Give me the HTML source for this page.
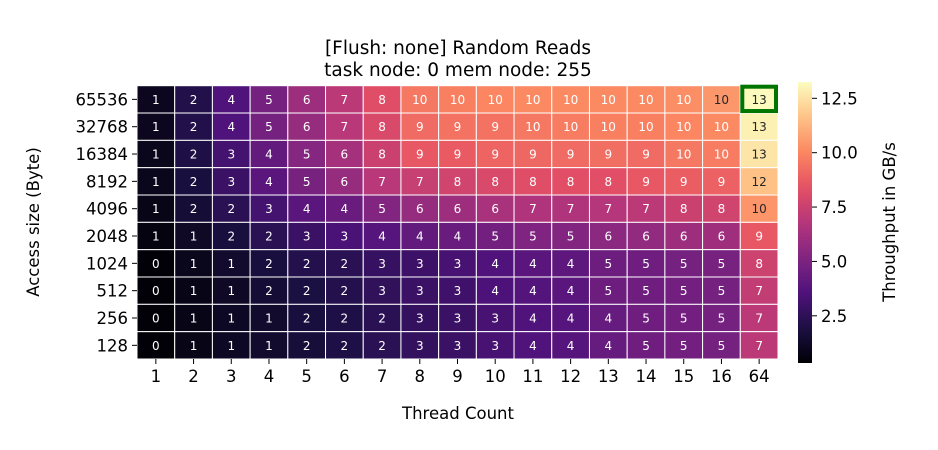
<!DOCTYPE html>
<html><head><meta charset="utf-8">
<style>
body{margin:0;background:#fff;}
svg{display:block;font-family:"DejaVu Sans","Liberation Sans",sans-serif;}
</style></head>
<body>
<svg id="chart" width="938" height="450" viewBox="0 0 938 450" xmlns="http://www.w3.org/2000/svg">
<text x="458" y="54" font-size="18.5" text-anchor="middle">[Flush: none] Random Reads</text>
<text x="458" y="76" font-size="18.5" text-anchor="middle">task node: 0 mem node: 255</text>
<g id="cells"></g>
<g id="xticks"></g>
<g id="yticks"></g>
<text x="458" y="419" font-size="16.5" text-anchor="middle">Thread Count</text>
<text transform="translate(39,222) rotate(-90)" font-size="16.5" text-anchor="middle">Access size (Byte)</text>
<defs><linearGradient id="cbgrad" x1="0" y1="1" x2="0" y2="0"></linearGradient></defs>
<rect x="798" y="82" width="14" height="281" fill="url(#cbgrad)"/>
<g id="cbticks"></g>
<text transform="translate(895,222) rotate(-90)" font-size="16.5" text-anchor="middle">Throughput in GB/s</text>
</svg>
<script>
const threads = ["1","2","3","4","5","6","7","8","9","10","11","12","13","14","15","16","64"];
const sizes = ["65536","32768","16384","8192","4096","2048","1024","512","256","128"];
const row65536 = [1.0,2.1,3.6,4.8,6.0,7.0,8.2,9.6,9.8,10.0,10.1,10.1,10.1,10.1,10.2,10.45,13.2];
const row32768 = [1.0,2.1,3.6,4.8,5.8,6.9,8.0,9.2,9.4,9.4,9.6,9.7,9.8,9.8,10.0,10.1,12.9];
const row16384 = [0.9,2.0,3.2,4.2,5.3,6.3,7.5,8.6,8.7,9.0,9.1,9.2,9.3,9.2,9.6,9.7,12.6];
const row8192  = [0.9,1.8,2.9,3.9,4.9,5.8,6.9,7.4,7.7,8.0,8.2,8.3,8.3,8.6,8.8,8.9,11.6];
const row4096  = [0.8,1.6,2.4,3.2,3.9,4.4,5.2,5.8,6.0,6.4,6.6,6.6,6.8,7.0,7.5,7.7,10.4];
const row2048  = [0.6,1.2,1.8,2.4,2.9,3.4,3.8,4.2,4.4,4.7,5.1,5.2,5.5,5.7,6.0,6.1,8.6];
const row1024  = [0.4,0.9,1.4,1.8,2.2,2.4,2.8,3.0,3.3,3.6,3.9,4.0,4.5,4.6,4.8,4.9,7.6];
const row512   = [0.4,0.8,1.2,1.6,1.9,2.2,2.6,2.9,3.1,3.5,3.7,3.9,4.5,4.6,4.7,4.8,7.2];
const row256   = [0.4,0.8,1.1,1.4,1.8,2.0,2.4,2.7,2.9,3.3,3.6,3.8,4.3,4.6,4.7,4.8,7.0];
const row128   = [0.4,0.8,1.1,1.4,1.7,2.0,2.4,2.7,2.9,3.3,3.6,3.8,4.3,4.6,4.7,4.8,7.0];
const values = [row65536,row32768,row16384,row8192,row4096,row2048,row1024,row512,row256,row128];
const cbTicks = [2.5,5.0,7.5,10.0,12.5];
const vmin = 0.33, vmax = 13.25;

const magma = ["#000004","#1c1044","#4f127b","#812581","#b5367a","#e55064","#fb8761","#fec287","#fcfdbf"];
function hex(h){return [1,3,5].map(i=>parseInt(h.substr(i,2),16));}
function cmap(t){t=Math.max(0,Math.min(1,t));const n=magma.length-1;const i=Math.min(n-1,Math.floor(t*n));const f=t*n-i;
 const a=hex(magma[i]),b=hex(magma[i+1]);return a.map((v,k)=>Math.round(v+(b[k]-v)*f));}
function lum(c){const l=c.map(v=>{v/=255;return v<=0.03928?v/12.92:Math.pow((v+0.055)/1.055,2.4);});return 0.2126*l[0]+0.7152*l[1]+0.0722*l[2];}

const X0=137,X1=778,Y0=85.7,Y1=359;
const cw=(X1-X0)/threads.length, rh=(Y1-Y0)/sizes.length;
const xs=i=>X0+i*cw, ys=j=>Y0+j*rh;
const cbY=v=>363-(v-vmin)/(vmax-vmin)*281;
const NS="http://www.w3.org/2000/svg";
function mk(tag,attrs,parent){const e=document.createElementNS(NS,tag);for(const k in attrs)e.setAttribute(k,attrs[k]);parent.appendChild(e);return e;}

const cells=document.getElementById('cells');
values.forEach((row,j)=>row.forEach((v,i)=>{
 const c=cmap((v-vmin)/(vmax-vmin));
 const r=mk('rect',{x:xs(i),y:ys(j),width:cw,height:rh,fill:`rgb(${c})`,stroke:'#fff','stroke-width':1},cells);
 
 
 const t=mk('text',{x:xs(i)+cw/2,y:ys(j)+rh/2+4.5,'font-size':12,'text-anchor':'middle',fill:lum(c)>0.43?'#262626':'#fff'},cells);
 t.textContent=Math.round(v);
 
 
}));
const hl=mk('rect',{x:xs(16)+2,y:ys(0)+1,width:cw-4,height:rh-3,fill:'none',stroke:'#007500','stroke-width':4},cells);



const xt=document.getElementById('xticks');
threads.forEach((l,i)=>{const x=xs(i)+cw/2;
 mk('line',{x1:x,x2:x,y1:Y1,y2:Y1+5,stroke:'#000'},xt);
 const t=mk('text',{x:x,y:Y1+23,'font-size':16.5,'text-anchor':'middle'},xt);t.textContent=l;
 
 });
const yt=document.getElementById('yticks');
sizes.forEach((l,j)=>{const y=ys(j)+rh/2;
 mk('line',{x1:X0-5,x2:X0,y1:y,y2:y,stroke:'#000'},yt);
 const t=mk('text',{x:X0-9,y:y+6,'font-size':16.5,'text-anchor':'end'},yt);t.textContent=l;
 
 });

const g=document.getElementById('cbgrad');
for(let k=0;k<=20;k++){const c=cmap(k/20);mk('stop',{offset:k/20,'stop-color':`rgb(${c})`},g);}
const cbt=document.getElementById('cbticks');
cbTicks.forEach(v=>{const y=cbY(v);
 mk('line',{x1:812,x2:817,y1:y,y2:y,stroke:'#000'},cbt);
 const t=mk('text',{x:821,y:y+6,'font-size':16.5},cbt);t.textContent=v.toFixed(1);
 
 });
</script>
</body></html>
